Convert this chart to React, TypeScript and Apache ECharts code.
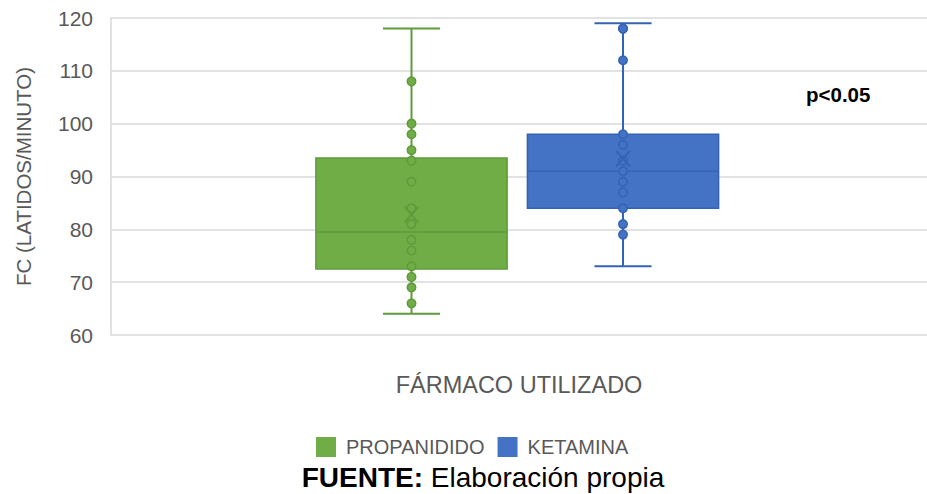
import React, { useEffect, useRef } from 'react';
import * as echarts from 'echarts';

const categories = ['PROPANIDIDO', 'KETAMINA'];
const yTickMin = 60;
const yTickMax = 120;
const yTickStep = 10;
// [min, Q1, median, Q3, max]
const propanididoBox = [64, 72.5, 79.5, 93.5, 118];
const ketaminaBox = [73, 84, 91, 98, 119];
const means = [82.8, 93.4];
const propanididoPoints = [108, 100, 98, 95, 93, 89, 84, 81, 78, 76, 73, 71, 69, 66];
const ketaminaPoints = [118, 118, 112, 98, 96, 93, 91, 89, 87, 84, 81, 79];
const pValueText = 'p<0.05';

const fillColors = ['#70AD47', '#4472C4'];
const lineColors = ['#5E9B3C', '#3563B4'];
const FONT = '"Liberation Sans", Arial, sans-serif';

export default function App() {
  const ref = useRef<HTMLDivElement>(null);

  useEffect(() => {
    if (!ref.current) return;
    const chart = echarts.init(ref.current, undefined, { renderer: 'svg' });

    const boxRender = (params: any, api: any) => {
      const idx = api.value(0);
      const vMin = api.value(1);
      const vQ1 = api.value(2);
      const vMed = api.value(3);
      const vQ3 = api.value(4);
      const vMax = api.value(5);
      const band = api.size([1, 0])[0];
      const half = band * 0.452;
      const capHalf = band * 0.135;
      const pMin = api.coord([idx, vMin]);
      const pQ1 = api.coord([idx, vQ1]);
      const pMed = api.coord([idx, vMed]);
      const pQ3 = api.coord([idx, vQ3]);
      const pMax = api.coord([idx, vMax]);
      const fill = fillColors[idx];
      const stroke = lineColors[idx];
      const cx = pMed[0];
      const lineStyle = { stroke, lineWidth: 2 };
      return {
        type: 'group',
        children: [
          { type: 'line', shape: { x1: cx, y1: pMax[1], x2: cx, y2: pQ3[1] }, style: lineStyle },
          { type: 'line', shape: { x1: cx, y1: pQ1[1], x2: cx, y2: pMin[1] }, style: lineStyle },
          { type: 'line', shape: { x1: cx - capHalf, y1: pMax[1], x2: cx + capHalf, y2: pMax[1] }, style: lineStyle },
          { type: 'line', shape: { x1: cx - capHalf, y1: pMin[1], x2: cx + capHalf, y2: pMin[1] }, style: lineStyle },
          {
            type: 'rect',
            shape: { x: cx - half, y: pQ3[1], width: half * 2, height: pQ1[1] - pQ3[1] },
            style: { fill, stroke, lineWidth: 1.5 },
          },
          { type: 'line', shape: { x1: cx - half, y1: pMed[1], x2: cx + half, y2: pMed[1] }, style: { stroke, lineWidth: 1.5 } },
        ],
      };
    };

    const meanRender = (params: any, api: any) => {
      const idx = api.value(0);
      const p = api.coord([idx, api.value(1)]);
      const stroke = lineColors[idx];
      const w = 7;
      const h = 8;
      return {
        type: 'group',
        children: [
          { type: 'line', shape: { x1: p[0] - w, y1: p[1] - h, x2: p[0] + w, y2: p[1] + h }, style: { stroke, lineWidth: 2 } },
          { type: 'line', shape: { x1: p[0] + w, y1: p[1] - h, x2: p[0] - w, y2: p[1] + h }, style: { stroke, lineWidth: 2 } },
        ],
      };
    };

    const boxes = [propanididoBox, ketaminaBox];
    const pointSets = [propanididoPoints, ketaminaPoints];

    const series: any[] = [];
    categories.forEach((name, i) => {
      series.push({
        name,
        type: 'custom',
        xAxisIndex: 1,
        yAxisIndex: 1,
        z: 2,
        itemStyle: { color: fillColors[i] },
        renderItem: boxRender,
        data: [[i, ...boxes[i]]],
      });
    });
    categories.forEach((name, i) => {
      series.push({
        name: name + ' puntos',
        type: 'scatter',
        xAxisIndex: 1,
        yAxisIndex: 1,
        z: 3,
        symbol: 'circle',
        symbolSize: 8.5,
        itemStyle: { color: fillColors[i], borderColor: lineColors[i], borderWidth: 1.5, opacity: 1 },
        data: pointSets[i].map((v) => [i, v]),
      });
    });
    series.push({
      name: 'media',
      type: 'custom',
      xAxisIndex: 1,
      yAxisIndex: 1,
      z: 4,
      renderItem: meanRender,
      data: means.map((m, i) => [i, m]),
    });

    chart.setOption({
      animation: false,
      textStyle: { fontFamily: FONT },
      grid: [
        { left: 111, right: 0, top: 18, bottom: 159 },
        { left: 305.75, width: 423, top: 18, bottom: 159 },
      ],
      xAxis: [
        {
          type: 'category',
          gridIndex: 0,
          data: [''],
          axisLine: { show: false },
          axisTick: { show: false },
          axisLabel: { show: false },
          name: 'FÁRMACO UTILIZADO',
          nameLocation: 'middle',
          nameGap: 38,
          nameTextStyle: { fontSize: 23.5, color: '#595959', fontFamily: FONT },
        },
        { type: 'category', gridIndex: 1, data: categories, show: false },
      ],
      yAxis: [
        {
          type: 'value',
          gridIndex: 0,
          min: yTickMin,
          max: yTickMax,
          interval: yTickStep,
          axisLine: { show: true, lineStyle: { color: '#d9d9d9', width: 1.5 } },
          axisTick: { show: false },
          axisLabel: { fontSize: 21, color: '#595959', margin: 18, fontFamily: FONT },
          splitLine: { show: true, lineStyle: { color: '#d9d9d9', width: 1.5 } },
          name: 'FC (LATIDOS/MINUTO)',
          nameLocation: 'middle',
          nameGap: 77,
          nameTextStyle: { fontSize: 20.5, color: '#595959', fontFamily: FONT },
        },
        { type: 'value', gridIndex: 1, min: yTickMin, max: yTickMax, show: false },
      ],
      legend: {
        data: categories,
        left: 311,
        top: 432,
        icon: 'rect',
        itemWidth: 20,
        itemHeight: 20,
        itemGap: 13,
        textStyle: { fontSize: 20, color: '#595959', fontFamily: FONT, padding: [0, 0, 0, 5] },
      },
      graphic: [
        {
          type: 'text',
          left: 806,
          top: 84,
          style: { text: pValueText, font: `bold 20.5px ${FONT}`, fill: '#000000' },
        },
        {
          type: 'text',
          x: 483,
          y: 477,
          style: {
            text: '{b|FUENTE:} Elaboración propia',
            align: 'center',
            verticalAlign: 'middle',
            font: `28px ${FONT}`,
            fill: '#000000',
            rich: {
              b: { fontWeight: 'bold', fontSize: 28, fontFamily: FONT, fill: '#000000' },
            },
          },
        },
      ],
      series,
    });

    return () => chart.dispose();
  }, []);

  return (
    <div
      ref={ref}
      style={{ position: 'fixed', left: 0, top: 0, width: 927, height: 494, background: '#ffffff' }}
    />
  );
}
